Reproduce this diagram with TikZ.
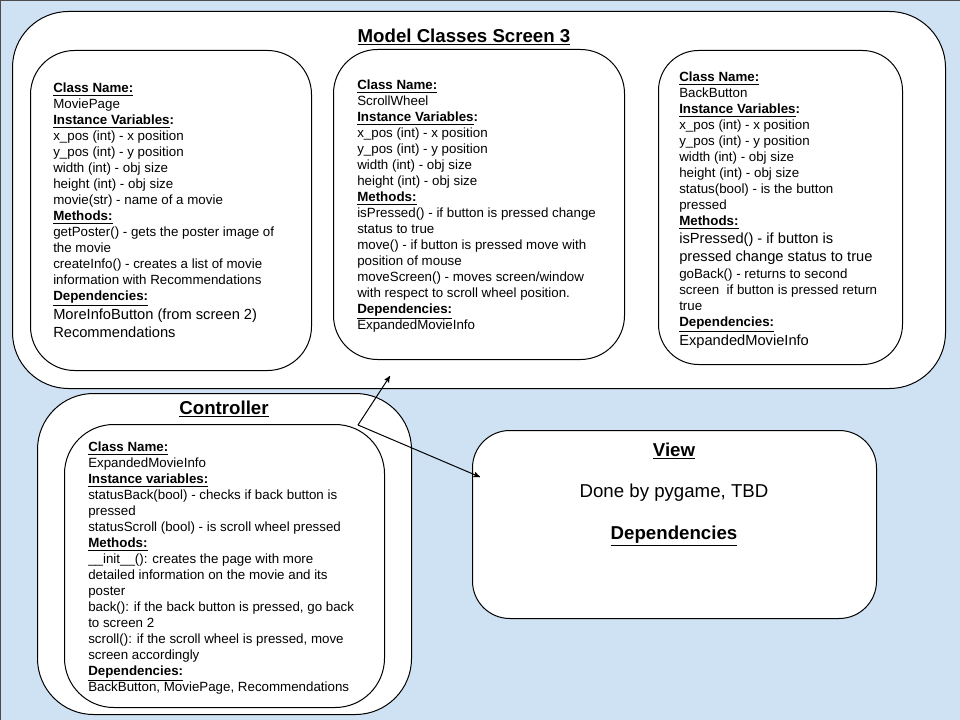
\documentclass[tikz,border=0pt]{standalone}
\usepackage{fontspec}
\setmainfont{Liberation Sans}
\usepackage{tikz}
\usetikzlibrary{arrows,positioning}
\definecolor{bgblue}{HTML}{CFE2F3}
\newcommand{\clshead}[1]{\underline{\textbf{#1}}}
\newcommand{\bigline}[1]{{\fontsize{11}{13}\selectfont #1}}

\begin{document}
\begin{tikzpicture}[x=0.75pt,y=-0.75pt,
	outerbox/.style={draw, fill=white, line width=0.75pt, anchor=north west, inner sep=0pt, rounded corners=42pt},
	classbox/.style={draw, fill=white, line width=0.75pt, anchor=north west, inner sep=0pt, rounded corners=33pt},
	classtext/.style={align=left, inner sep=0pt, font=\fontsize{10}{12}\selectfont},
	boxtitle/.style={inner sep=0pt, font=\fontsize{14}{16}\selectfont\bfseries},
	viewtext/.style={inner sep=0pt, font=\fontsize{14}{16}\selectfont},
	paths/.style={->, line width=0.75pt, >=stealth'}
	]

\useasboundingbox (0,0) rectangle (960,720);
\draw[fill=bgblue, draw=black!70] (0,0) rectangle (960,720);

% model classes
\node [outerbox, minimum width=699.75pt, minimum height=282.75pt] at (12,11) (model) {};
\node [boxtitle] at (464,37) (modeltitle) {\underline{Model Classes Screen 3}};

\node [classbox, minimum width=210.75pt, minimum height=240pt] at (30,50) (mp) {};
\node [classbox, minimum width=218.25pt, minimum height=232.5pt] at (333,49) (sw) {};
\node [classbox, minimum width=183pt, minimum height=235.5pt, rounded corners=30pt] at (658,50) (bb) {};

\node [classtext, below right=24.75pt and 17.25pt of mp.north west] (mptext) {
\clshead{Class Name:}\\
MoviePage\\
\clshead{Instance Variables}\textbf{:}\\
x\_pos (int) - x position\\
y\_pos (int) - y position\\
width (int) - obj size\\
height (int) - obj size\\
movie(str) - name of a movie\\
\clshead{Methods:}\\
getPoster() - gets the poster image of\\
the movie\\
createInfo() - creates a list of movie\\
information with Recommendations\\
\clshead{Dependencies:}\\[1pt]
\bigline{MoreInfoButton (from screen 2)}\\[1.5pt]
\bigline{Recommendations}};

\node [classtext, below right=23.25pt and 18pt of sw.north west] (swtext) {
\clshead{Class Name:}\\
ScrollWheel\\
\clshead{Instance Variables}\textbf{:}\\
x\_pos (int) - x position\\
y\_pos (int) - y position\\
width (int) - obj size\\
height (int) - obj size\\
\clshead{Methods:}\\
isPressed() - if button is pressed change\\
status to true\\
move() - if button is pressed move with\\
position of mouse\\
moveScreen() - moves screen/window\\
with respect to scroll wheel position.\\
\clshead{Dependencies:}\\
ExpandedMovieInfo};

\node [classtext, below right=16.5pt and 15.75pt of bb.north west] (bbtext) {
\clshead{Class Name:}\\
BackButton\\
\clshead{Instance Variables}\textbf{:}\\
x\_pos (int) - x position\\
y\_pos (int) - y position\\
width (int) - obj size\\
height (int) - obj size\\
status(bool) - is the button\\
pressed\\
\clshead{Methods:}\\[1pt]
\bigline{isPressed() - if button is}\\[1.5pt]
\bigline{pressed change status to true}\\[1pt]
goBack() - returns to second\\
screen\ \ if button is pressed return\\
true\\
\clshead{Dependencies:}\\[1pt]
\bigline{ExpandedMovieInfo}};

% controller
\node [outerbox, minimum width=280.5pt, minimum height=240.75pt] at (37,393) (ctrl) {};
\node [boxtitle] at (224,409) (ctrltitle) {\underline{Controller}};
\node [classbox, minimum width=240pt, minimum height=212.25pt, rounded corners=37pt] at (64,424) (ei) {};

\node [classtext, below right=13.5pt and 18pt of ei.north west] (eitext) {
\clshead{Class Name:}\\
ExpandedMovieInfo\\
\clshead{Instance variables:}\\
statusBack(bool) - checks if back button is\\
pressed\\
statusScroll (bool) - is scroll wheel pressed\\
\clshead{Methods:}\\
\_\_init\_\_(): creates the page with more\\
detailed information on the movie and its\\
poster\\
back(): if the back button is pressed, go back\\
to screen 2\\
scroll(): if the scroll wheel is pressed, move\\
screen accordingly\\
\clshead{Dependencies:}\\
BackButton, MoviePage, Recommendations};

% view
\node [classbox, minimum width=303pt, minimum height=141pt, rounded corners=28pt] at (472,430) (view) {};
\node [boxtitle] at (674,451) (viewtitle) {\underline{View}};
\node [viewtext] at (674,493) (viewbody) {Done by pygame, TBD};
\node [boxtitle] at (674,536) (viewdeps) {\underline{Dependencies}};

% paths
\coordinate (eicorner) at (358,425);
\coordinate (modelhit) at (390,376);
\coordinate (viewhit) at (480,477);
\draw[paths] (eicorner) -- (modelhit);
\draw[paths] (eicorner) -- (viewhit);

\end{tikzpicture}
\end{document}
